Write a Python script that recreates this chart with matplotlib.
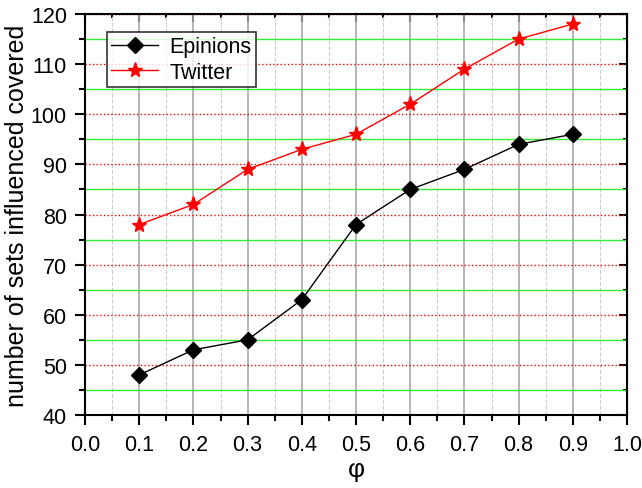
import matplotlib
matplotlib.use('Agg')
import matplotlib.pyplot as plt
from matplotlib.ticker import MultipleLocator

plt.rcParams['font.family'] = ['Liberation Sans', 'DejaVu Sans']

phi = [0.1, 0.2, 0.3, 0.4, 0.5, 0.6, 0.7, 0.8, 0.9]
epinions = [48, 53, 55, 63, 78, 85, 89, 94, 96]
twitter = [78, 82, 89, 93, 96, 102, 109, 115, 118]

fig = plt.figure(figsize=(6.42, 4.89), dpi=100)
ax = fig.add_axes([85/642, 1-416/489, (627-85)/642, (416-15)/489])

ax.set_xlim(0, 1.0)
ax.set_ylim(40, 120)
ax.xaxis.set_major_locator(MultipleLocator(0.1))
ax.xaxis.set_minor_locator(MultipleLocator(0.05))
ax.yaxis.set_major_locator(MultipleLocator(10))
ax.yaxis.set_minor_locator(MultipleLocator(5))

# grid lines
ax.grid(which='major', axis='x', color='#a8a8a8', linestyle='-', linewidth=1.2)
ax.grid(which='minor', axis='x', color='#cccccc', linestyle='--', linewidth=0.8)
ax.grid(which='major', axis='y', color='red', linestyle=':', linewidth=1.0)
ax.grid(which='minor', axis='y', color='#33ee33', linestyle='-', linewidth=1.0)
ax.set_axisbelow(True)

ax.plot(phi, epinions, color='black', marker='D', markersize=8, linewidth=1, label='Epinions')
ax.plot(phi, twitter, color='red', marker='*', markersize=11, linewidth=1, label='Twitter')

ax.tick_params(which='both', direction='out', top=False, right=False, width=1.5)
ax.tick_params(which='major', length=7, labelsize=15.5)
ax.tick_params(axis='x', which='major', pad=7)
ax.tick_params(axis='y', which='major', pad=6)
ax.tick_params(which='minor', length=4)
sec_x = ax.secondary_xaxis('top')
sec_x.xaxis.set_major_locator(MultipleLocator(0.1))
sec_x.xaxis.set_minor_locator(MultipleLocator(0.05))
sec_x.tick_params(which='both', direction='in', labeltop=False, width=1.5)
sec_x.tick_params(which='major', length=6)
sec_x.tick_params(which='minor', length=3)
sec_y = ax.secondary_yaxis('right')
sec_y.yaxis.set_major_locator(MultipleLocator(10))
sec_y.yaxis.set_minor_locator(MultipleLocator(5))
sec_y.tick_params(which='both', direction='in', labelright=False, width=1.5)
sec_y.tick_params(which='major', length=6)
sec_y.tick_params(which='minor', length=3)

for s in ax.spines.values():
    s.set_linewidth(1.5)

ax.set_xticklabels(['%.1f' % v for v in ax.get_xticks()])
ax.set_xlabel('φ', fontsize=19, labelpad=1)
ax.set_ylabel('number of sets influenced covered', fontsize=18, labelpad=1)

leg = ax.legend(loc='upper left', bbox_to_anchor=(0.04, 0.955), borderaxespad=0,
                fontsize=15.5, frameon=True, fancybox=False, edgecolor='black',
                handlelength=2.2, borderpad=0.2, labelspacing=0.2, handletextpad=0.5)
leg.get_frame().set_linewidth(1.2)

fig.savefig('out.png', dpi=100)
